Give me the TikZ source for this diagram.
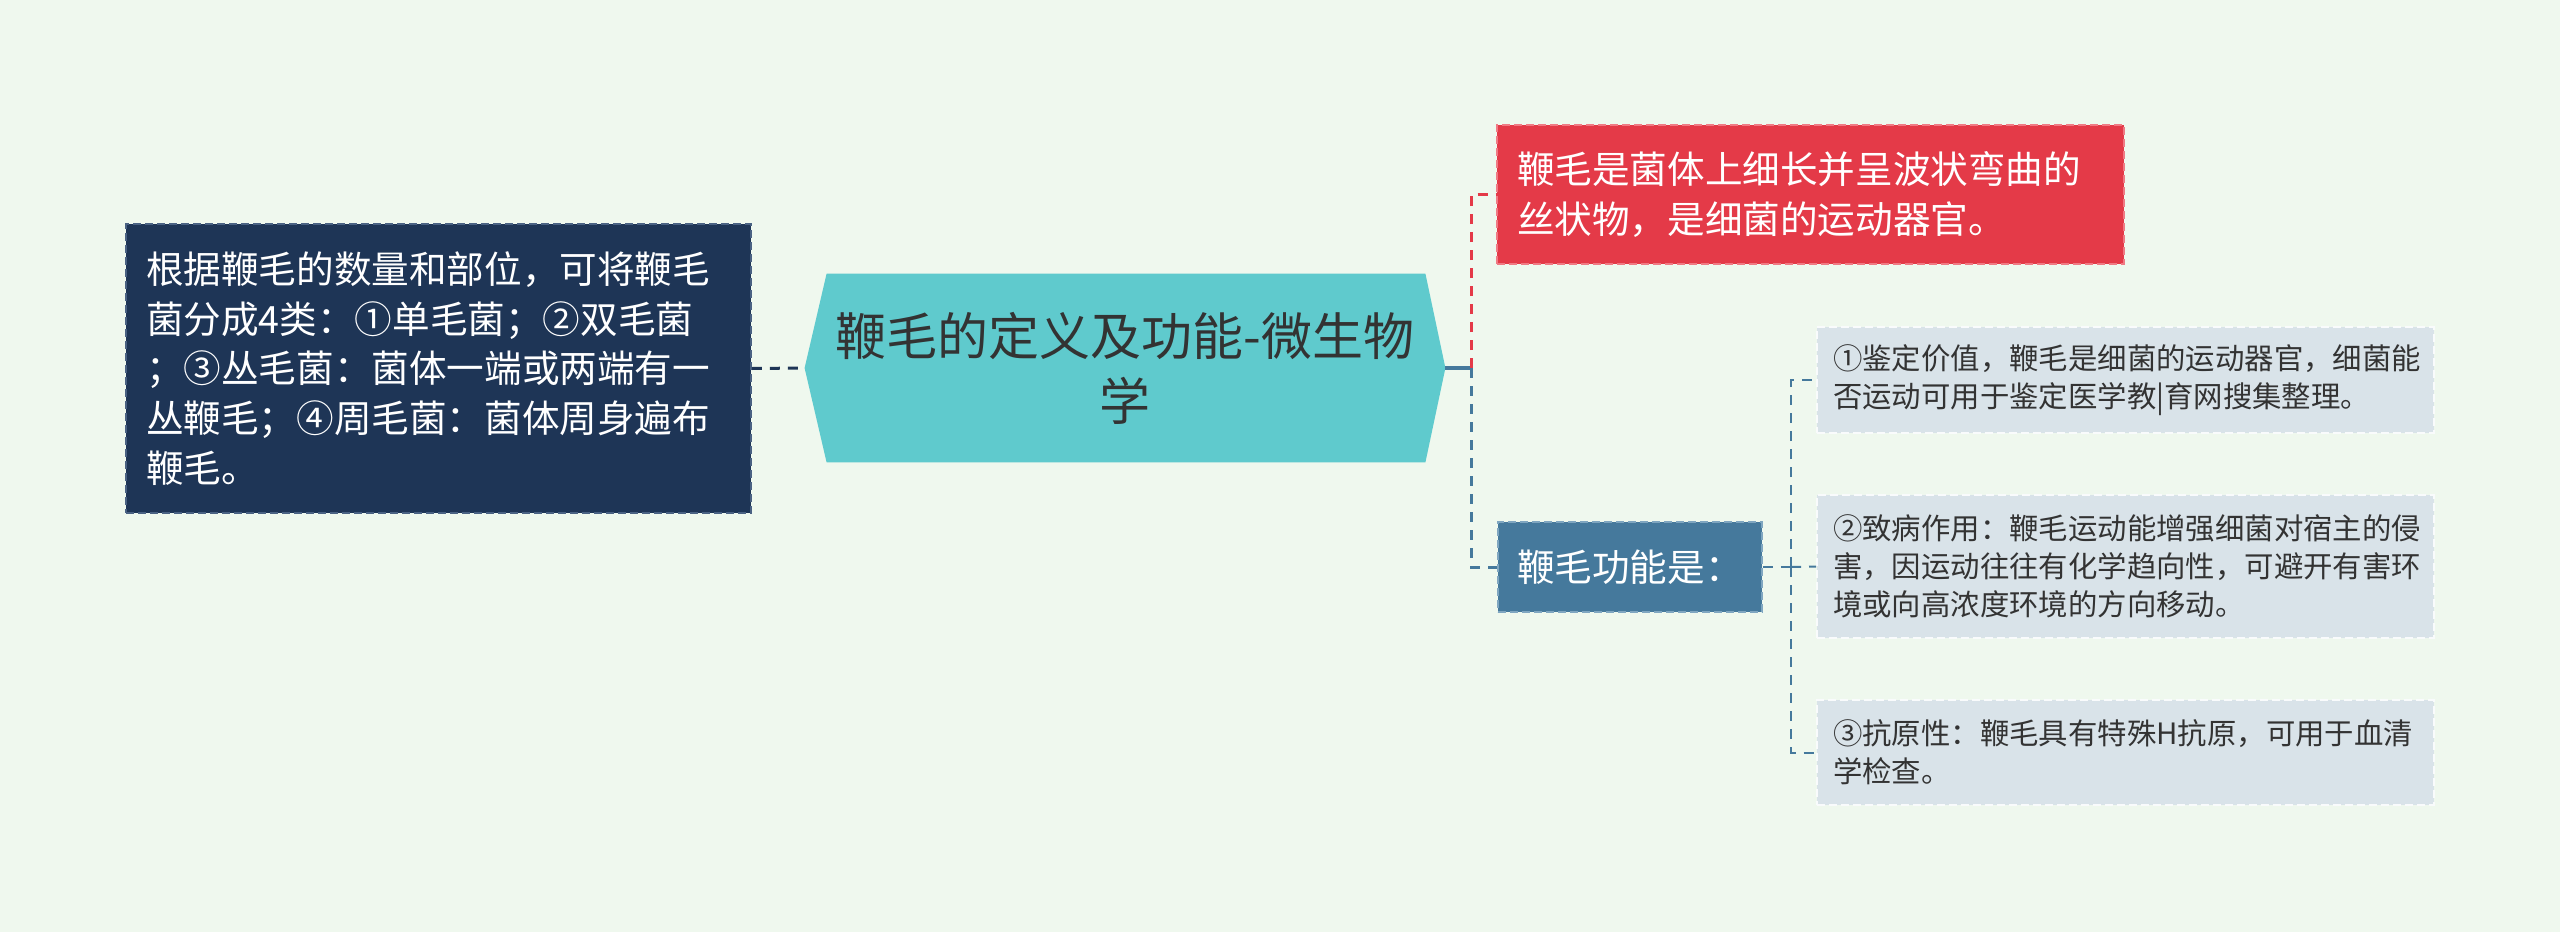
\documentclass[tikz,border=0pt]{standalone}
\usepackage{fontspec}
\setmainfont{Noto Sans CJK SC}
\usetikzlibrary{calc}
\definecolor{bg}{HTML}{EFF8EE}
\definecolor{navy}{HTML}{1E3556}
\definecolor{navyb}{HTML}{4A6283}
\definecolor{teal}{HTML}{5FCACD}
\definecolor{redc}{HTML}{E43A48}
\definecolor{redb}{HTML}{F07A84}
\definecolor{steel}{HTML}{45799C}
\definecolor{steelb}{HTML}{7FA6C0}
\definecolor{grayc}{HTML}{D9E3E9}
\definecolor{txt}{HTML}{333333}
\begin{document}
\begin{tikzpicture}[x=0.5pt,y=-0.5pt,
  boxbase/.style={rectangle, inner ysep=0pt, align=left, line width=0.8pt, dash pattern=on 4pt off 2pt},
  navybox/.style={boxbase, fill=navy, draw=navyb, text=white, font={\fontsize{18.8}{24.8}\selectfont}},
  redbox/.style={boxbase, fill=redc, draw=redb, text=white, font={\fontsize{18.8}{24.8}\selectfont}},
  steelbox/.style={boxbase, fill=steel, draw=steelb, text=white, font={\fontsize{18.8}{24.8}\selectfont}},
  graybox/.style={boxbase, fill=grayc, draw=white!85!grayc, text=txt, font={\fontsize{14.7}{19}\selectfont}},
  mainline/.style={line width=1.6pt},
  maindash/.style={line width=1.5pt, dash pattern=on 5pt off 4pt},
  subdash/.style={line width=1pt, dash pattern=on 5pt off 4pt}
]
\useasboundingbox[fill=bg] (0,0) rectangle (2560,932);

% central hexagon
\node[inner sep=0pt, minimum width=320pt, minimum height=94pt] (C) at (1125,368) {};
\fill[teal] (C.west) -- ($(C.north west)+(22,0)$) -- ($(C.north east)+(-20,0)$) -- (C.east)
  -- ($(C.south east)+(-20,0)$) -- ($(C.south west)+(22,0)$) -- cycle;
\node[text=txt, align=center, font={\fontsize{25.5}{32.5}\selectfont}] (Ct) at (1125,368) {鞭毛的定义及功能-微生物\\学};

% left box
\node[navybox, inner xsep=10pt, text width=292.5pt, minimum width=312.5pt, minimum height=144.5pt] (L) at (438.5,368.5)
{根据鞭毛的数量和部位，可将鞭毛\\菌分成4类：①单毛菌；②双毛菌\\；③丛毛菌：菌体一端或两端有一\\丛鞭毛；④周毛菌：菌体周身遍布\\鞭毛。};

% red box
\node[redbox, inner xsep=10pt, text width=293.5pt, minimum width=313.5pt, minimum height=69.5pt] (R) at (1810.5,194.5)
{鞭毛是菌体上细长并呈波状弯曲的\\丝状物，是细菌的运动器官。};

% function box
\node[steelbox, inner xsep=9.5pt, text width=113pt, minimum width=132pt, minimum height=45pt] (F) at (1630,567)
{鞭毛功能是：};

% gray boxes
\node[graybox, inner xsep=8pt, text width=292.5pt, minimum width=308.5pt, minimum height=53pt] (G1) at (2125.5,380)
{①鉴定价值，鞭毛是细菌的运动器官，细菌能\\否运动可用于鉴定医学教|育网搜集整理。};
\node[graybox, inner xsep=8pt, text width=292.5pt, minimum width=308.5pt, minimum height=71.5pt] (G2) at (2125.5,566.5)
{②致病作用：鞭毛运动能增强细菌对宿主的侵\\害，因运动往往有化学趋向性，可避开有害环\\境或向高浓度环境的方向移动。};
\node[graybox, inner xsep=8pt, text width=292.5pt, minimum width=308.5pt, minimum height=52.5pt] (G3) at (2125.5,752.5)
{③抗原性：鞭毛具有特殊H抗原，可用于血清\\学检查。};

% connectors
\coordinate (J1) at (1471,368);
\coordinate (J2) at (1791,567);
\draw[maindash, navy] (L.east) -- (C.west);
\draw[mainline, steel] (C.east) -- (J1);
\draw[maindash, redc] (J1) |- (R.west);
\draw[maindash, steel] (J1) |- (F.west);
\draw[subdash, steel] (F.east) -- (J2);
\draw[subdash, steel] (J2) |- (G1.west);
\draw[subdash, steel] (J2) -- (G2.west);
\draw[subdash, steel] (J2) |- (G3.west);
\end{tikzpicture}
\end{document}
